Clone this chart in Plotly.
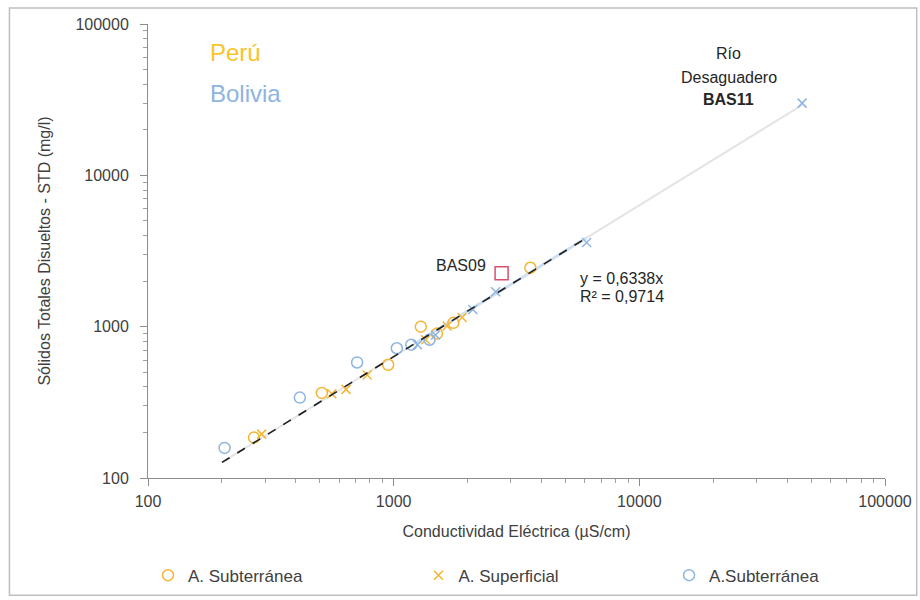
import plotly.graph_objects as go

# Conductividad eléctrica (µS/cm) vs sólidos totales disueltos (mg/l)
peru_sub_ce = [270, 510, 950, 1290, 1500, 1750, 3600]
peru_sub_std = [185, 365, 560, 1000, 900, 1060, 2450]

peru_sup_ce = [290, 560, 640, 780, 1350, 1650, 1900]
peru_sup_std = [195, 360, 385, 480, 820, 1010, 1150]

bol_sub_ce = [205, 415, 710, 1030, 1180, 1400]
bol_sub_std = [158, 340, 580, 720, 760, 820]

bol_sup_ce = [1250, 1480, 2100, 2600, 6100, 46000]
bol_sup_std = [760, 880, 1300, 1700, 3600, 30000]

bas09_ce = [2750]
bas09_std = [2250]

# Recta de ajuste y = 0,6338x
slope = 0.6338
fit_ce = [200, 6100]
ext_ce = [200, 46000]

minor_vals = [m * d for d in (100, 1000, 10000) for m in range(2, 10)]

PERU = "#F5B532"
BOLIVIA = "#8DB4E2"
FONT = "Liberation Sans, Arial, sans-serif"
TXT = "#404040"

fig = go.Figure()

fig.add_trace(go.Scatter(
    x=ext_ce, y=[slope * v for v in ext_ce], mode="lines",
    line=dict(color="#E4E4E4", width=2), showlegend=False, hoverinfo="skip"))
fig.add_trace(go.Scatter(
    x=[1250, 6100], y=[slope * 1250, slope * 6100], mode="lines",
    line=dict(color="#CFE0F3", width=3), showlegend=False, hoverinfo="skip"))

fig.add_trace(go.Scatter(
    x=peru_sub_ce, y=peru_sub_std, mode="markers", name="A. Subterránea", legend="legend",
    marker=dict(symbol="circle-open", size=11, color=PERU, line=dict(width=1.5))))
fig.add_trace(go.Scatter(
    x=peru_sup_ce, y=peru_sup_std, mode="markers", name="A. Superficial", legend="legend2",
    marker=dict(symbol="x-thin-open", size=9, color=PERU, line=dict(width=1.5, color=PERU))))
fig.add_trace(go.Scatter(
    x=bol_sub_ce, y=bol_sub_std, mode="markers", name="A.Subterránea", legend="legend3",
    marker=dict(symbol="circle-open", size=11, color=BOLIVIA, line=dict(width=1.5))))
fig.add_trace(go.Scatter(
    x=bol_sup_ce, y=bol_sup_std, mode="markers", showlegend=False,
    marker=dict(symbol="x-thin-open", size=9, color=BOLIVIA, line=dict(width=1.5, color=BOLIVIA))))
fig.add_trace(go.Scatter(
    x=bas09_ce, y=bas09_std, mode="markers", showlegend=False,
    marker=dict(symbol="square-open", size=13, color="#D9506A", line=dict(width=1.5))))

fig.add_trace(go.Scatter(
    x=fit_ce, y=[slope * v for v in fit_ce], mode="lines",
    line=dict(color="#1F1F1F", width=1.6, dash="dash"), showlegend=False, hoverinfo="skip"))

axis_common = dict(
    type="log", showgrid=False, zeroline=False, showline=True,
    linecolor="#8C8C8C", linewidth=1, ticks="outside", ticklen=7,
    tickcolor="#8C8C8C", tickmode="linear", tick0=0, dtick=1, tickformat="d",
    tickfont=dict(family=FONT, size=16, color=TXT),
    range=[2, 5], automargin=False,
)

# Ejes superpuestos sólo para las marcas secundarias
minor_axis = dict(
    type="log", range=[2, 5], showgrid=False, zeroline=False, showline=False,
    tickmode="array", tickvals=minor_vals, ticks="outside", ticklen=4,
    tickcolor="#A0A0A0", showticklabels=False, automargin=False,
)

legend_common = dict(orientation="h", y=-0.215, yanchor="middle", xanchor="left",
                     font=dict(family=FONT, size=17, color=TXT),
                     itemwidth=30, bgcolor="rgba(0,0,0,0)")

fig.update_layout(
    width=920, height=600,
    margin=dict(l=148, r=35, t=24, b=122, autoexpand=False),
    paper_bgcolor="white", plot_bgcolor="white",
    font=dict(family=FONT, size=16, color=TXT),
    xaxis=dict(axis_common, ticklabelstandoff=2,
               title=dict(text="Conductividad Eléctrica (µS/cm)",
                          font=dict(size=16, color=TXT), standoff=16)),
    yaxis=dict(axis_common, ticklabelstandoff=8,
               title=dict(text="Sólidos Totales Disueltos - STD (mg/l)",
                          font=dict(size=16, color=TXT), standoff=20)),
    xaxis2=dict(minor_axis, overlaying="x", anchor="y", side="bottom"),
    yaxis2=dict(minor_axis, overlaying="y", anchor="x", side="left"),
    legend=dict(legend_common, x=0.0),
    legend2=dict(legend_common, x=0.367),
    legend3=dict(legend_common, x=0.707),
    showlegend=True,
)

# Traza vacía que activa los ejes secundarios
fig.add_trace(go.Scatter(x=[], y=[], xaxis="x2", yaxis="y2", showlegend=False, hoverinfo="skip"))

ann_font = dict(family=FONT, size=16, color="#262626")
annotations = [
    dict(x=0.082, y=0.938, text="Perú", font=dict(family=FONT, size=24, color="#F9C425")),
    dict(x=0.082, y=0.846, text="Bolivia", font=dict(family=FONT, size=24, color="#8DB4E2")),
    dict(x=0.787, y=0.934, text="Río", font=ann_font, xanchor="center"),
    dict(x=0.788, y=0.883, text="Desaguadero", font=ann_font, xanchor="center"),
    dict(x=0.787, y=0.833, text="<b>BAS11</b>", font=ann_font, xanchor="center"),
    dict(x=0.462, y=0.469, text="BAS09", font=ann_font, xanchor="right"),
    dict(x=0.584, y=0.4405, text="y = 0,6338x", font=ann_font),
    dict(x=0.584, y=0.399, text="R² = 0,9714", font=ann_font),
]
for a in annotations:
    a.setdefault("xanchor", "left")
    fig.add_annotation(xref="paper", yref="paper", yanchor="middle", showarrow=False, **a)

# Marco del gráfico
fig.add_shape(type="rect", xref="paper", yref="paper",
              x0=-0.188, x1=1.043, y0=-0.258, y1=1.035,
              line=dict(color="#BFBFBF", width=1.5), layer="below")

fig.write_html("out.html")
